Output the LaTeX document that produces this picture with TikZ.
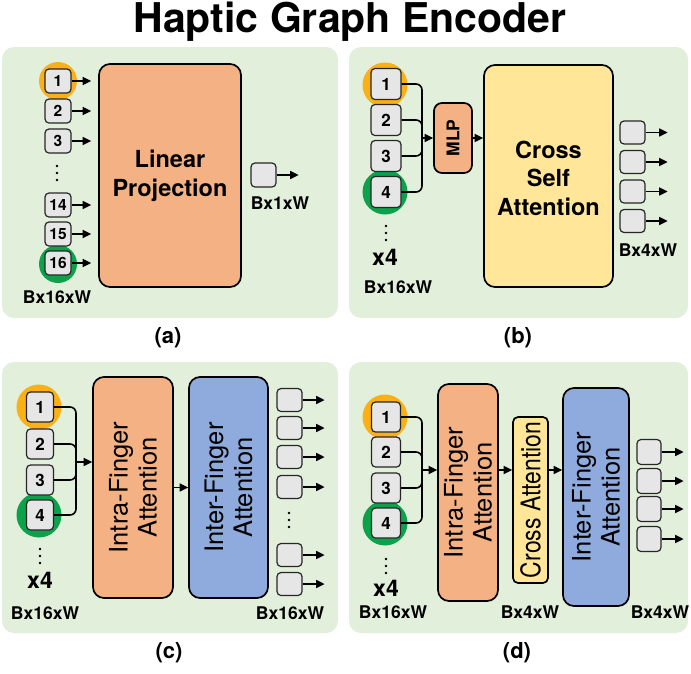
\documentclass[tikz,border=0pt]{standalone}
\usepackage{fontspec}
\setmainfont{TeX Gyre Heros}
\usetikzlibrary{arrows.meta}
\definecolor{bggreen}{HTML}{E2EFDA}
\definecolor{salmon}{HTML}{F4B183}
\definecolor{lyellow}{HTML}{FFE699}
\definecolor{lblue}{HTML}{8FAADC}
\definecolor{boxgray}{HTML}{E7E6E6}
\definecolor{fingerorange}{HTML}{FBB116}
\definecolor{fingergreen}{HTML}{0BA24B}
\newcommand{\fsz}[1]{\fontsize{#1}{#1}\selectfont}
\begin{document}
\begin{tikzpicture}[x=1pt,y=-1pt,
  panel/.style={fill=bggreen, rounded corners=12pt},
  tok/.style={draw=black!85, fill=boxgray, line width=1.2pt, rounded corners=4pt, inner sep=0pt, font=\bfseries\fsz{17}},
  bigbox/.style={draw=black, line width=1.7pt, rounded corners=11pt, inner sep=0pt},
  ring/.style={circle, inner sep=0pt, minimum size=45},
  arr/.style={line width=1.6pt, -{Triangle[length=8.5pt,width=8pt]}},
  bus/.style={line width=1.6pt, rounded corners=6pt},
  lbl/.style={font=\bfseries\fsz{17.5}, inner sep=0pt},
  xfour/.style={font=\bfseries\fsz{23}, inner sep=0pt},
  paneltag/.style={font=\bfseries\fsz{22}, inner sep=0pt},
  vtxt/.style={rotate=90, align=center, inner sep=0pt, font=\fontsize{25.5}{29}\selectfont},
  dotfill/.style={fill=black},
]
\useasboundingbox (0,0) rectangle (691,673);

% title
\node[anchor=base, inner sep=0pt] (title) at (350,32) {\bfseries\fsz{41}Haptic Graph Encoder};

% panels
\fill[panel] (2,47) rectangle (338,318);
\fill[panel] (349,47) rectangle (688,318);
\fill[panel] (2,362) rectangle (338,633);
\fill[panel] (349,362) rectangle (688,633);

% ---------------- (a) ----------------
\node[ring, minimum size=38, fill=fingerorange] (a1r) at (58,81) {};
\node[ring, minimum size=38, fill=fingergreen] (a16r) at (58,264) {};
\node[bigbox, fill=salmon, minimum width=142, minimum height=223] (lin) at (170,175.5) {};
\node[align=center, inner sep=0pt, font=\bfseries\fontsize{23.5}{29}\selectfont] (lintxt) at (lin.center) {Linear\\Projection};
\foreach \n/\y in {1/81,2/111,3/141,14/205,15/234,16/263}{
  \node[tok, font=\bfseries\fsz{15.5}, minimum width=26, minimum height=24] (a\n) at (58,\y) {\n};
  \draw[arr, shorten >=7pt] (a\n.east) -- (a\n.east -| lin.west);
}
\fill[dotfill] (57,166) circle (1.3) (57,173) circle (1.3) (57,180) circle (1.3);
\node[tok, minimum width=25, minimum height=24] (aout) at (263.5,175) {};
\draw[arr] (aout.east) -- ++(22,0);
\node[lbl] (abx1) at (280,203) {Bx1xW};
\node[lbl] (abx16) at (57,297) {Bx16xW};
\node[paneltag] (capa) at (168,338) {(a)};

% ---------------- (b) ----------------
\node[ring, fill=fingerorange] (b1r) at (385,85) {};
\node[ring, fill=fingergreen] (b4r) at (385,192) {};
\foreach \n/\y in {1/84,2/120,3/156,4/192}{
  \node[tok, minimum width=30, minimum height=31] (b\n) at (386,\y) {\n};
}
\coordinate (bm) at (422,138);
\foreach \n in {1,...,4}{ \draw[bus] (b\n.east) -| (bm); }
\node[bigbox, rounded corners=8pt, fill=salmon, minimum width=38, minimum height=70] (mlp) at (453,138) {};
\node[rotate=90, inner sep=0pt, font=\bfseries\fsz{17.5}] (mlptxt) at (mlp.center) {MLP};
\draw[arr] (bm) -- (bm -| mlp.west);
\node[bigbox, fill=lyellow, minimum width=129, minimum height=222] (csa) at (548.5,176) {};
\node[align=center, inner sep=0pt, font=\bfseries\fontsize{23.5}{28.5}\selectfont] (csatxt) at (548.5,178) {Cross\\Self\\Attention};
\draw[arr] (mlp.east) -- (mlp.east -| csa.west);
\foreach \n/\y in {1/132.5,2/162,3/191.5,4/221}{
  \node[tok, minimum width=25, minimum height=23] (bo\n) at (632.5,\y) {};
  \draw[arr] (bo\n.east) -- ++(22,0);
}
\node[lbl] (bbx4) at (648,250) {Bx4xW};
\fill[dotfill] (386,226) circle (1.3) (386,233) circle (1.3) (386,240) circle (1.3);
\node[xfour] (bx4) at (385,257) {x4};
\node[lbl] (bbx16) at (398,287) {Bx16xW};
\node[paneltag] (capb) at (518,338) {(b)};

% ---------------- (c) ----------------
\node[ring, fill=fingerorange] (c1r) at (39,407) {};
\node[ring, fill=fingergreen] (c4r) at (39,515) {};
\foreach \n/\y in {1/407,2/444,3/480,4/515}{
  \node[tok, minimum width=27, minimum height=30] (c\n) at (40,\y) {\n};
}
\coordinate (cm) at (76,462);
\foreach \n in {1,...,4}{ \draw[bus] (c\n.east) -| (cm); }
\node[bigbox, fill=salmon, minimum width=80, minimum height=221] (cintra) at (133,487.5) {};
\node[vtxt] (cintratxt) at (cintra.center) {Intra-Finger\\Attention};
\node[bigbox, fill=lblue, minimum width=79, minimum height=221] (cinter) at (228.5,487.5) {};
\node[vtxt] (cintertxt) at (cinter.center) {Inter-Finger\\Attention};
\draw[arr] (cm) -- (cm -| cintra.west);
\draw[arr] (cintra.east) -- (cinter.west);
\foreach \n/\y in {1/400,2/428,3/457,4/487,5/555,6/584}{
  \node[tok, minimum width=25, minimum height=23] (co\n) at (289.5,\y) {};
  \draw[arr] (co\n.east) -- ++(22,0);
}
\fill[dotfill] (289,513) circle (1.3) (289,520) circle (1.3) (289,527) circle (1.3);
\fill[dotfill] (40,549) circle (1.3) (40,556) circle (1.3) (40,563) circle (1.3);
\node[xfour] (cx4) at (40,580) {x4};
\node[lbl] (cbx16l) at (45,613) {Bx16xW};
\node[lbl] (cbx16r) at (290,613) {Bx16xW};
\node[paneltag] (capc) at (169,653) {(c)};

% ---------------- (d) ----------------
\node[ring, fill=fingerorange] (d1r) at (385,417) {};
\node[ring, fill=fingergreen] (d4r) at (385,523) {};
\foreach \n/\y in {1/417,2/452,3/488,4/523}{
  \node[tok, minimum width=29, minimum height=30] (d\n) at (386,\y) {\n};
}
\coordinate (dm) at (422,470);
\foreach \n in {1,...,4}{ \draw[bus] (d\n.east) -| (dm); }
\node[bigbox, fill=salmon, minimum width=60, minimum height=217] (dintra) at (468,492.5) {};
\node[vtxt] (dintratxt) at (dintra.center) {Intra-Finger\\Attention};
\node[bigbox, rounded corners=5pt, fill=lyellow, minimum width=35, minimum height=166] (dcross) at (530.5,500) {};
\node[rotate=90, inner sep=0pt] (dcrosstxt) at (dcross.center) {\scalebox{0.85}[1]{\fsz{27}Cross Attention}};
\node[bigbox, fill=lblue, minimum width=66, minimum height=218] (dinter) at (596,497) {};
\node[vtxt] (dintertxt) at (dinter.center) {Inter-Finger\\Attention};
\draw[arr] (dm) -- (dm -| dintra.west);
\draw[arr] (dintra.east |- dm) -- (dcross.west |- dm);
\draw[arr] (dcross.east |- dm) -- (dinter.west |- dm);
\foreach \n/\y in {1/452,2/481,3/509,4/539}{
  \node[tok, minimum width=24, minimum height=25] (do\n) at (649,\y) {};
  \draw[arr] (do\n.east) -- ++(22,0);
}
\fill[dotfill] (386,559) circle (1.3) (386,566) circle (1.3) (386,573) circle (1.3);
\node[xfour] (dx4) at (386,588) {x4};
\node[lbl] (dbx16) at (393,612) {Bx16xW};
\node[lbl] (dbx4a) at (530,612) {Bx4xW};
\node[lbl] (dbx4b) at (660,612) {Bx4xW};
\node[paneltag] (capd) at (517,653) {(d)};
\end{tikzpicture}
\end{document}
